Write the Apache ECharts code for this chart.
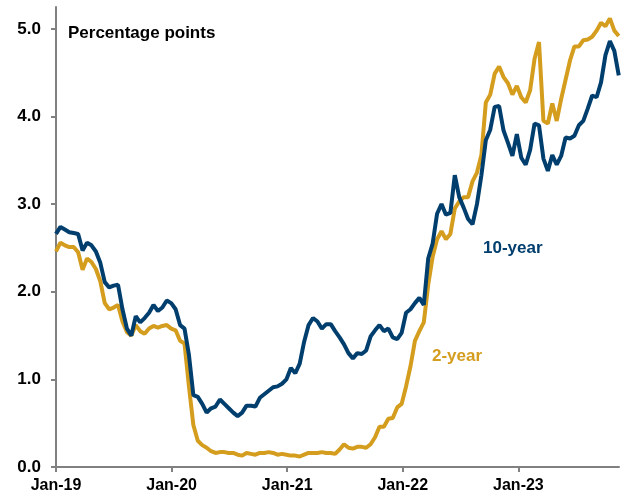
<!DOCTYPE html>
<html>
<head>
<meta charset="UTF-8">
<title>2-year and 10-year yields</title>
<script src="https://cdn.jsdelivr.net/npm/echarts@6.0.0/dist/echarts.min.js"></script>
<style>
	html, body { margin: 0; padding: 0; background: #fff; }
	#chart { width: 624px; height: 495px; }
</style>
</head>
<body>
<div id="chart"></div>
<script>
// fortnightly observations from the first week of Jan-2019
var startYear = 2019;
var stepYears = 14 / 365.25;
var yearTicks = [2019, 2020, 2021, 2022, 2023];
var valueTicks = [0, 1, 2, 3, 4, 5];

var tenYear = [
	2.66, 2.74, 2.71, 2.68, 2.67, 2.66, 2.47, 2.56, 2.53, 2.46,
	2.33, 2.11, 2.05, 2.07, 2.08, 1.80, 1.58, 1.50, 1.72, 1.65,
	1.70, 1.76, 1.85, 1.78, 1.82, 1.90, 1.87, 1.80, 1.62, 1.58,
	1.28, 0.82, 0.80, 0.72, 0.62, 0.67, 0.69, 0.77, 0.72, 0.67,
	0.62, 0.58, 0.62, 0.70, 0.70, 0.69, 0.79, 0.83, 0.87, 0.91,
	0.92, 0.95, 1.00, 1.13, 1.07, 1.18, 1.43, 1.62, 1.70, 1.66,
	1.58, 1.63, 1.63, 1.55, 1.48, 1.40, 1.30, 1.24, 1.30, 1.29,
	1.33, 1.49, 1.56, 1.62, 1.55, 1.58, 1.48, 1.46, 1.53, 1.76,
	1.80, 1.87, 1.93, 1.85, 2.38, 2.55, 2.89, 3.00, 2.88, 2.90,
	3.33, 3.08, 2.96, 2.83, 2.77, 3.00, 3.33, 3.73, 3.85, 4.11,
	4.12, 3.84, 3.70, 3.55, 3.80, 3.53, 3.45, 3.62, 3.92, 3.90,
	3.52, 3.38, 3.56, 3.45, 3.55, 3.76, 3.75, 3.78, 3.90, 3.95,
	4.09, 4.24, 4.22, 4.39, 4.70, 4.86, 4.75, 4.47
];

var twoYear = [
	2.46, 2.56, 2.53, 2.51, 2.51, 2.45, 2.25, 2.38, 2.34, 2.26,
	2.12, 1.87, 1.80, 1.82, 1.85, 1.66, 1.54, 1.50, 1.62, 1.55,
	1.52, 1.58, 1.61, 1.59, 1.61, 1.62, 1.58, 1.56, 1.44, 1.41,
	0.92, 0.48, 0.30, 0.25, 0.22, 0.18, 0.16, 0.17, 0.17, 0.16,
	0.16, 0.14, 0.13, 0.16, 0.15, 0.14, 0.16, 0.16, 0.17, 0.16,
	0.14, 0.15, 0.14, 0.13, 0.13, 0.12, 0.14, 0.16, 0.16, 0.16,
	0.17, 0.16, 0.16, 0.15, 0.20, 0.26, 0.22, 0.21, 0.23, 0.23,
	0.22, 0.26, 0.34, 0.46, 0.46, 0.55, 0.56, 0.68, 0.72, 0.92,
	1.15, 1.44, 1.55, 1.65, 2.08, 2.40, 2.60, 2.69, 2.60, 2.66,
	2.95, 3.03, 3.08, 3.08, 3.26, 3.36, 3.56, 4.16, 4.25, 4.49,
	4.57, 4.45, 4.38, 4.25, 4.35, 4.22, 4.16, 4.30, 4.66, 4.85,
	3.95, 3.92, 4.15, 3.95, 4.20, 4.42, 4.64, 4.80, 4.80, 4.87,
	4.88, 4.91, 4.98, 5.07, 5.03, 5.12, 4.98, 4.92
];

var NAVY = '#003E6E';
var GOLD = '#D49D1E';
var FONT = 'Liberation Sans, Arial, sans-serif';

function toPoints(values) {
	return values.map(function(v, i) {
		return [startYear + i * stepYears, v];
	});
}

var myChart = echarts.init(document.getElementById('chart'));
var axisLineStyle = { color: '#808080', width: 2 };

var option = {
	animation: false,
	backgroundColor: '#ffffff',
	grid: { left: 56, right: 5, top: 7, bottom: 28, containLabel: false },
	xAxis: {
		type: 'value',
		min: 2019,
		max: 2023.87,
		splitLine: { show: false },
		axisLine: { show: true, onZero: true, lineStyle: axisLineStyle },
		axisTick: { show: true, length: 5, customValues: yearTicks, lineStyle: axisLineStyle },
		axisLabel: {
			customValues: yearTicks,
			margin: 11,
			color: '#000',
			fontFamily: FONT,
			fontWeight: 'bold',
			fontSize: 16,
			formatter: function(v) { return 'Jan-' + String(v).slice(2); }
		}
	},
	yAxis: {
		type: 'value',
		min: 0,
		max: 5.25,
		splitLine: { show: false },
		axisLine: { show: true, lineStyle: axisLineStyle },
		axisTick: { show: true, length: 5, customValues: valueTicks, lineStyle: axisLineStyle },
		axisLabel: {
			customValues: valueTicks,
			margin: 15,
			color: '#000',
			fontFamily: FONT,
			fontWeight: 'bold',
			fontSize: 17,
			formatter: function(v) { return v.toFixed(1); }
		}
	},
	series: [{
		name: '2-year',
		type: 'line',
		showSymbol: false,
		symbol: 'none',
		lineStyle: { color: GOLD, width: 4 },
		data: toPoints(twoYear)
	}, {
		name: '10-year',
		type: 'line',
		showSymbol: false,
		symbol: 'none',
		lineStyle: { color: NAVY, width: 4 },
		data: toPoints(tenYear)
	}],
	graphic: [{
		type: 'text',
		left: 68,
		top: 25,
		style: { text: 'Percentage points', fill: '#000', font: 'bold 17px ' + FONT }
	}, {
		type: 'text',
		left: 483,
		top: 240,
		style: { text: '10-year', fill: NAVY, font: 'bold 17px ' + FONT }
	}, {
		type: 'text',
		left: 432,
		top: 348,
		style: { text: '2-year', fill: GOLD, font: 'bold 17px ' + FONT }
	}]
};

myChart.setOption(option);
</script>
</body>
</html>
